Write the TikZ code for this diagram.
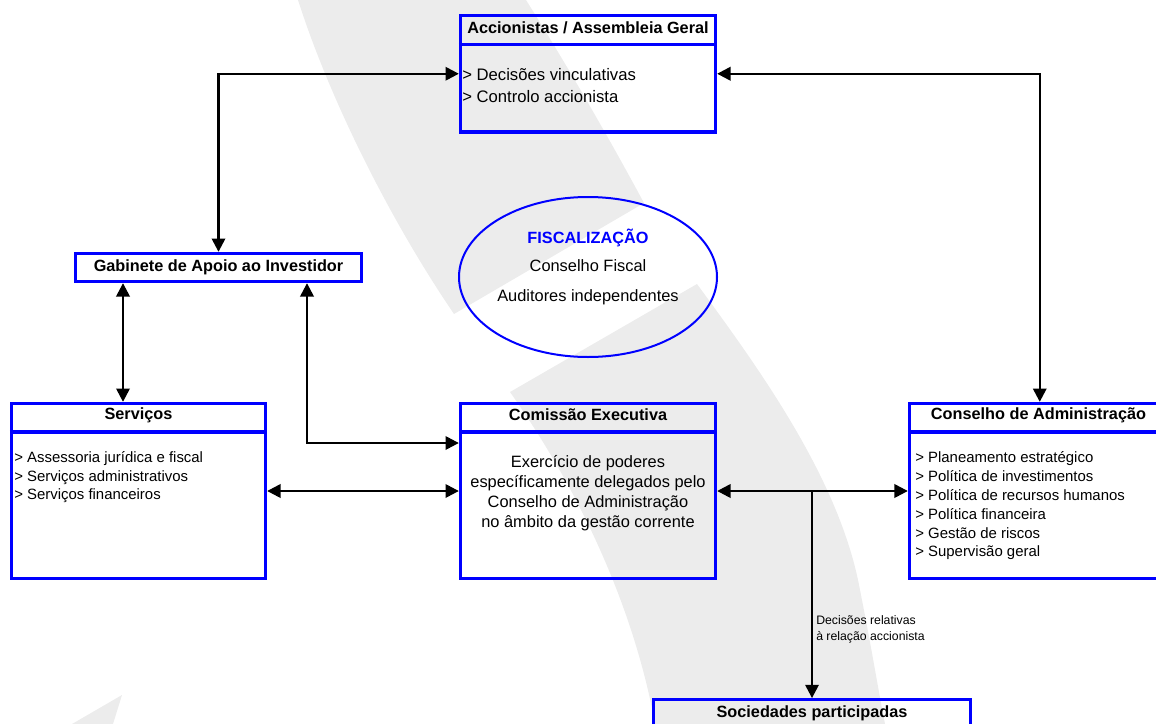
\documentclass[tikz,border=0pt]{standalone}
\usepackage{fontspec}
\setmainfont{Liberation Sans}
\usetikzlibrary{arrows.meta,shapes.geometric}
\definecolor{boxblue}{RGB}{0,0,255}
\definecolor{swoosh}{RGB}{236,236,236}
\tikzset{
  box/.style={draw=boxblue, line width=2.5pt, rectangle, inner sep=0pt},
  head/.style={font=\fontsize{12.2}{14}\selectfont\bfseries},
  body/.style={font=\fontsize{12.3}{15}\selectfont},
  items/.style={align=left, anchor=west, inner sep=0pt},
  rule/.style={draw=boxblue, line width=2.5pt},
  link/.style={line width=1.8pt, {Triangle[length=10pt,width=10pt]}-{Triangle[length=10pt,width=10pt]}},
  oneway/.style={line width=1.8pt, -{Triangle[length=10pt,width=10pt]}},
}
\begin{document}
\begin{tikzpicture}[x=0.75pt,y=-0.75pt]
    \useasboundingbox (0,0) rectangle (1156,724);
    \clip (0,0) rectangle (1156,724);
    \fill[swoosh] (298,0) -- (526,0) .. controls (570,70) and (610,140) .. (644,203)
      -- (454,314) .. controls (390,220) and (330,100) .. (298,0) -- cycle;
    \fill[swoosh] (510,392) -- (697,284) .. controls (760,370) and (840,480) .. (860,590)
      .. controls (872,650) and (880,700) .. (885,724) -- (655,724)
      .. controls (640,640) and (600,520) .. (510,392) -- cycle;
    \fill[swoosh] (72,724) -- (122,695) -- (113,724) -- cycle;
    \node[box, minimum width=191.25pt, minimum height=87.4pt] (acc) at (588,73.75) {};
    \node[box, head, minimum width=214.5pt, minimum height=21pt] (gab) at (218.5,267.5) {Gabinete de Apoio ao Investidor};
    \node[ellipse, draw=boxblue, line width=1.5pt, minimum width=193.5pt, minimum height=120pt] (fisc) at (588,277) {};
    \node[box, minimum width=190.5pt, minimum height=131.25pt] (serv) at (138.5,491) {};
    \node[box, minimum width=191.25pt, minimum height=131.25pt] (com) at (588,491) {};
    \node[box, minimum width=195.4pt, minimum height=131.25pt] (cons) at (1039.75,491) {};
    \node[box, minimum width=237.75pt, minimum height=45pt] (soc) at (812,729.75) {};
    \draw[rule] (acc.west |- 0,44.5) -- (acc.east |- 0,44.5);
    \draw[rule] (serv.west |- 0,432) -- (serv.east |- 0,432);
    \draw[rule] (com.west |- 0,432) -- (com.east |- 0,432);
    \draw[rule] (cons.west |- 0,432) -- (cons.east |- 0,432);
    \node[head] (acct) at (588,28) {Accionistas / Assembleia Geral};
    \node[items, font=\fontsize{12.5}{16.5}\selectfont] (acci) at (462,86) {> Decisões vinculativas\\> Controlo accionista};
    \node[head, text=boxblue] (fisct) at (588,238) {FISCALIZAÇÃO};
    \node[body] (fisc1) at (588,266) {Conselho Fiscal};
    \node[body] (fisc2) at (588,297) {Auditores independentes};
    \node[head] (servt) at (138.5,415) {Serviços};
    \node[items, font=\fontsize{11.2}{13.9}\selectfont] (servi) at (14,477.5) {> Assessoria jurídica e fiscal\\> Serviços administrativos\\> Serviços financeiros};
    \node[head] (comt) at (588,415) {Comissão Executiva};
    \node[body, align=center] (comb) at (588,493) {Exercício de poderes\\específicamente delegados pelo\\Conselho de Administração\\no âmbito da gestão corrente};
    \node[head] (const) at (1038.5,415) {Conselho de Administração};
    \node[items, font=\fontsize{11.2}{14.1}\selectfont] (consi) at (915,506) {> Planeamento estratégico\\> Política de investimentos\\> Política de recursos humanos\\> Política financeira\\> Gestão de riscos\\> Supervisão geral};
    \node[head] (soct) at (812,713) {Sociedades participadas};
    \node[items, font=\fontsize{9.2}{12}\selectfont] (lbl) at (816,629) {Decisões relativas\\à relação accionista};
    \draw[link] (gab) |- (acc);
    \draw[link] (acc) -| (cons);
    \draw[link] (gab.south -| 123,0) -- (serv.north -| 123,0);
    \draw[link] (gab.south -| 307,0) |- (com.west |- 0,443);
    \draw[link] (serv) -- (com);
    \draw[link] (com) -- (cons);
    \draw[oneway] (com.east -| soc.north) -- (soc.north);
  \end{tikzpicture}
\end{document}
